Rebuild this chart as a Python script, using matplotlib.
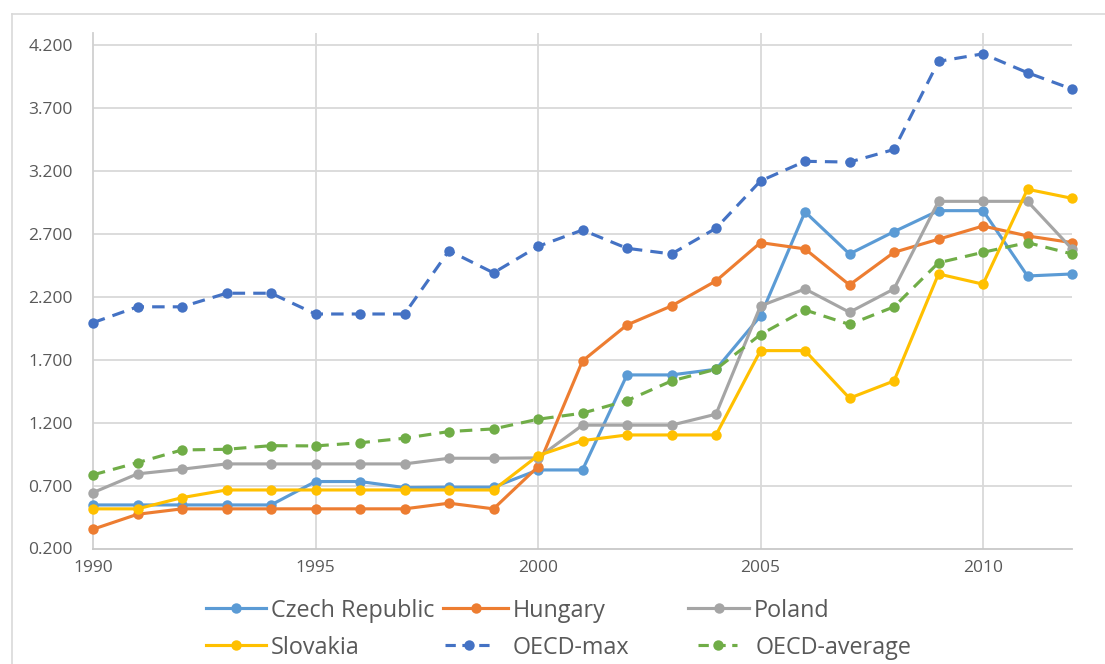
import matplotlib
matplotlib.use("Agg")
import matplotlib.pyplot as plt
from matplotlib.lines import Line2D

years = list(range(1990, 2013))

czech = [0.546, 0.546, 0.546, 0.546, 0.546, 0.732, 0.732, 0.684, 0.687, 0.687,
         0.824, 0.824, 1.579, 1.579, 1.624, 2.047, 2.874, 2.540, 2.717, 2.884,
         2.884, 2.365, 2.381]
hungary = [0.353, 0.472, 0.515, 0.515, 0.515, 0.515, 0.515, 0.515, 0.560, 0.515,
           0.850, 1.690, 1.976, 2.127, 2.326, 2.630, 2.580, 2.294, 2.553, 2.657,
           2.762, 2.683, 2.630]
poland = [0.644, 0.793, 0.830, 0.872, 0.872, 0.872, 0.872, 0.872, 0.917, 0.917,
          0.920, 1.180, 1.180, 1.180, 1.267, 2.127, 2.262, 2.077, 2.262, 2.958,
          2.958, 2.958, 2.580]
slovakia = [0.515, 0.515, 0.604, 0.665, 0.665, 0.665, 0.665, 0.665, 0.665, 0.665,
            0.938, 1.057, 1.102, 1.102, 1.102, 1.772, 1.772, 1.394, 1.531, 2.381,
            2.300, 3.054, 2.982]
oecd_max = [1.994, 2.120, 2.120, 2.228, 2.228, 2.063, 2.063, 2.063, 2.566, 2.390,
            2.600, 2.730, 2.585, 2.540, 2.744, 3.120, 3.276, 3.270, 3.370, 4.070,
            4.130, 3.980, 3.850]
oecd_avg = [0.785, 0.882, 0.983, 0.988, 1.017, 1.015, 1.040, 1.076, 1.129, 1.150,
            1.227, 1.275, 1.375, 1.531, 1.624, 1.900, 2.095, 1.980, 2.120, 2.470,
            2.553, 2.630, 2.540]

series_names = ["Czech Republic", "Hungary", "Poland", "Slovakia", "OECD-max", "OECD-average"]
series_vals = [czech, hungary, poland, slovakia, oecd_max, oecd_avg]
colors = ["#5B9BD5", "#ED7D31", "#A5A5A5", "#FFC000", "#4472C4", "#70AD47"]
dashed = [False, False, False, False, True, True]

ytick_vals = [0.2, 0.7, 1.2, 1.7, 2.2, 2.7, 3.2, 3.7, 4.2]
xtick_vals = [1990, 1995, 2000, 2005, 2010]

plt.rcParams['font.family'] = ['Open Sans', 'DejaVu Sans']

W, H = 1105, 664
fig = plt.figure(figsize=(W / 100, H / 100), dpi=100)
left, right, bottom, top = 93, 1072, 548.5, 33
ax = fig.add_axes([left / W, 1 - bottom / H, (right - left) / W, (bottom - top) / H])

px_per_unit = (548.5 - 45) / 4.0
ax.set_xlim(1990, 2012)
ax.set_ylim(0.2, 4.2 + (45 - top) / px_per_unit)

grid_c = "#D9D9D9"
for v in ytick_vals[1:]:
    ax.axhline(v, color=grid_c, lw=1.3, zorder=0)
for v in xtick_vals[1:]:
    ax.axvline(v, color=grid_c, lw=1.3, zorder=0)

dash_pat = (0, (4.0, 2.6))
for name, vals, c, d in zip(series_names, series_vals, colors, dashed):
    ls = dash_pat if d else "-"
    ax.plot(years, vals, color=c, lw=2.25, ls=ls, marker="o",
            markersize=7.5, markeredgewidth=0, label=name, zorder=3,
            clip_on=False, dash_capstyle="butt")

for s in ["top", "right"]:
    ax.spines[s].set_visible(False)
ax.spines["left"].set_color("#D0D0D0")
ax.spines["bottom"].set_color("#C8C8C8")
ax.spines["left"].set_linewidth(1.3)
ax.spines["bottom"].set_linewidth(1.3)

ax.set_yticks(ytick_vals)
ax.set_yticklabels([f"{v:.3f}" for v in ytick_vals])
ax.set_xticks(xtick_vals)
ax.set_xticklabels([str(v) for v in xtick_vals])
ax.tick_params(axis="both", length=0, labelsize=12.5, colors="#595959")
ax.tick_params(axis="y", pad=14.5)
ax.tick_params(axis="x", pad=8)

# outer chart border (left and top visible)
fig.add_artist(Line2D([12 / W, 12 / W], [0, 1 - 14 / H], color="#D9D9D9", lw=1.2))
fig.add_artist(Line2D([12 / W, 1], [1 - 14 / H, 1 - 14 / H], color="#D9D9D9", lw=1.2))

# legend entries placed like the original: (handle x0, handle x1, row y, text x)
legend_pos = [(206, 266, 608, 271), (443, 508, 608, 513), (688, 749, 608, 754),
              (206, 266, 645, 271), (445, 493, 645, 513), (698, 737, 645, 756)]
for (x0, x1, yy, tx), name, c, d in zip(legend_pos, series_names, colors, dashed):
    xm = (x0 + x1) / 2
    ls = (0, (3.3, 2.1)) if d else "-"
    fig.add_artist(Line2D([x0 / W, xm / W, x1 / W], [1 - yy / H] * 3, color=c,
                          lw=2.25, ls=ls, marker="o", markersize=7.5,
                          markeredgewidth=0, markevery=[1], dash_capstyle="butt"))
    fig.text(tx / W, 1 - yy / H, name, fontsize=16.8, color="#595959",
             ha="left", va="center_baseline")

fig.savefig("out.png", dpi=100)
